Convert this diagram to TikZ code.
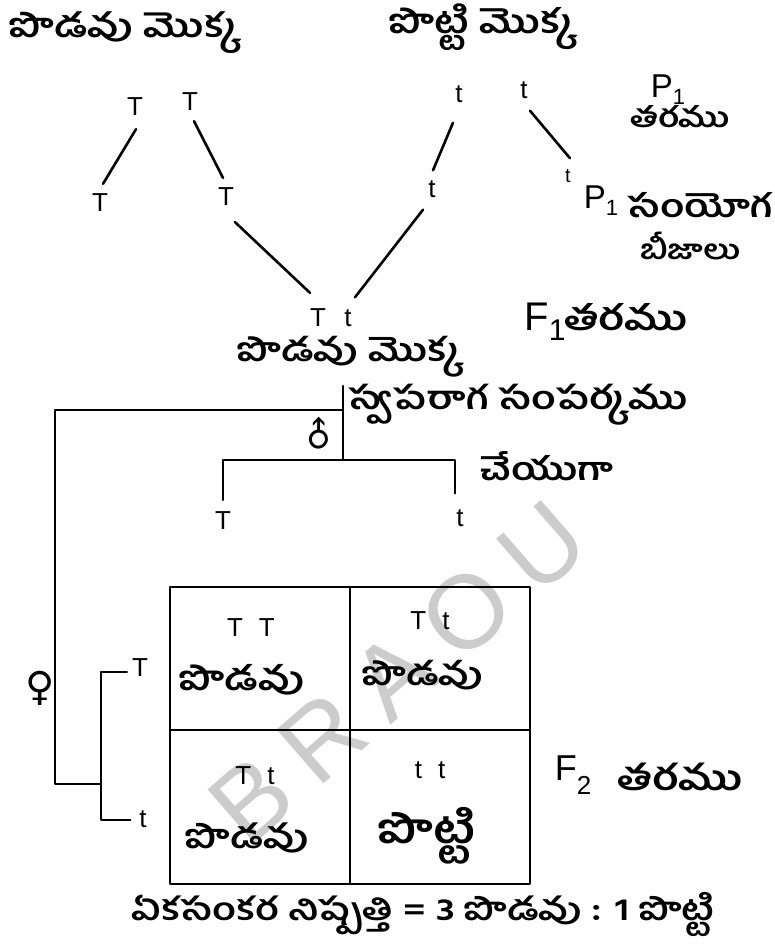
\documentclass[tikz,border=0pt]{standalone}
\usepackage{fontspec}
\setmainfont{Liberation Sans}
\newfontfamily\telugu[Script=Telugu]{Hind Guntur}
\newfontfamily\symfont{DejaVu Sans}
\usetikzlibrary{calc}
% Telugu text set to a given width (pt), slightly flattened
\newcommand\tel[2]{\scalebox{1}[0.8]{\resizebox{#1pt}{!}{\telugu\bfseries #2}}}
% lowered index: size, drop, text
\newcommand\lowidx[3]{\raisebox{-#2pt}{\fontsize{#1}{#1}\selectfont #3}}
\begin{document}
\begin{tikzpicture}[x=1pt,y=-1pt,
  ln/.style={line width=2.6pt,line cap=round,line join=round},
  allele/.style={inner sep=0pt,font=\fontsize{26}{26}\selectfont},
  lbl/.style={inner sep=0pt},
  gensym/.style={inner sep=0pt,font=\fontsize{34}{34}\selectfont}]
\fill[white] (0,0) rectangle (775,952);
\useasboundingbox (0,0) rectangle (775,952);

% watermark
\node[rotate=41,text=black!20,font=\fontsize{104}{104}\selectfont] (wm) at (398,672)
  {B\hspace{22pt}R\hspace{22pt}A\hspace{22pt}O\hspace{22pt}U};

% parent plants
\node[lbl] (tallP) at (125,33) {\tel{230}{పొడవు మొక్క}};
\node[lbl] (dwarfP) at (483,27) {\tel{187}{పొట్టి మొక్క}};

% parental alleles and gametes
\node[allele] (Ta) at (135,107) {T};
\node[allele] (Tb) at (190,102) {T};
\node[allele] (ta) at (459,94) {t};
\node[allele] (tb) at (524,90) {t};
\node[allele] (Tc) at (100,203) {T};
\node[allele] (Td) at (226,197) {T};
\node[allele] (tc) at (432,189) {t};
\node[allele,font=\fontsize{20}{20}\selectfont] (td) at (568,176) {t};

\draw[ln] ($(Ta.south)+(1,13)$) -- ($(Tc.north)+(3,-10)$);
\draw[ln] ($(Tb.south)+(4,10)$) -- ($(Td.north)+(-3,-10)$);
\draw[ln] ($(ta.south)+(-6,20)$) -- ($(tc.north)+(1,-10)$);
\draw[ln] ($(tb.south)+(6,12)$) -- ($(td.north)+(2,-11)$);

% generation labels
\node[gensym,font=\fontsize{33}{33}\selectfont] (P1g) at (668,90) {P\lowidx{22}{7}{1}};
\node[lbl] (tharamuP) at (680,117) {\tel{100}{తరము}};
\node[gensym,font=\fontsize{33}{33}\selectfont] (P1s) at (601,201) {P\lowidx{22}{7}{1}};
\node[lbl] (samyoga) at (700,205) {\tel{145}{సంయోగ}};
\node[lbl] (bijalu) at (690,246) {\tel{100}{బీజాలు}};

% F1 hybrid
\node[allele] (FT) at (318,318) {T};
\node[allele] (Ft) at (348,318) {t};
\draw[ln] ($(Td.south)+(9,16)$) -- ($(FT.north)+(-8,-16)$);
\draw[ln] ($(tc.south)+(-9,12)$) -- ($(Ft.north)+(7,-12)$);
\node[lbl] (f1plant) at (350,357) {\tel{225}{పొడవు మొక్క}};
\node[gensym,font=\fontsize{40}{40}\selectfont] (F1) at (545,322) {F\lowidx{30}{10}{1}};
\node[lbl] (tharamuF1) at (626,317) {\tel{123}{తరము}};

% self pollination
\node[lbl] (selfp) at (518,405) {\tel{339}{స్వపరాగ సంపర్కము}};
\node[lbl] (cheyaga) at (547,466) {\tel{133}{చేయుగా}};
\node[inner sep=0pt,rotate=45,font=\symfont\fontsize{34}{34}\selectfont] (male) at (319,435) {♂};
\node[inner sep=0pt,font=\symfont\fontsize{40}{40}\selectfont] (female) at (40,688) {♀};

\coordinate (stemTop) at (343,386);
\coordinate (stemJoin) at (343,410);
\coordinate (stemBot) at (343,460);
\coordinate (femCorner) at (55,410);
\coordinate (femFoot) at (55,784);
\coordinate (fSplitTop) at (101,672);
\coordinate (fSplitBot) at (101,820);
\coordinate (femJoin) at (101,784);

% male gametes
\node[allele] (mT) at (223,521) {T};
\node[allele] (mt) at (460,518) {t};
\draw[ln] (stemTop) -- (stemBot);
\draw[ln] ($(mT.north)+(0,-12)$) |- (stemBot) -| ($(mt.north)+(-5,-16)$);

% female gametes
\node[allele] (fT) at (140,668) {T};
\node[allele] (ft) at (143,819) {t};
\draw[ln] (stemJoin) -- (femCorner) -- (femFoot) -- (femJoin);
\draw[ln] ($(fT.west)+(-5,4)$) -- (fSplitTop) -- (fSplitBot) -- ($(ft.west)+(-9,1)$);

% Punnett square
\draw[ln] (170,587) rectangle (530,884);
\draw[ln] (350,587) -- (350,884);
\draw[ln] (170,730) -- (530,730);

\node[allele] (gTL) at (251,628) {T\hspace{16pt}T};
\node[lbl] (pTL) at (242,680) {\tel{125}{పొడవు}};
\node[allele] (gTR) at (430,621) {T\hspace{16pt}t};
\node[lbl] (pTR) at (423,675) {\tel{121}{పొడవు}};
\node[allele] (gBL) at (255,776) {T\hspace{16pt}t};
\node[lbl] (pBL) at (247,838) {\tel{123}{పొడవు}};
\node[allele] (gBR) at (430,770) {t\hspace{16pt}t};
\node[lbl] (pBR) at (427,836) {\tel{97}{పొట్టి}};

\node[gensym,font=\fontsize{36}{36}\selectfont] (F2) at (573,775) {F\lowidx{26}{14}{2}};
\node[lbl] (tharamuF2) at (680,777) {\tel{125}{తరము}};

% ratio
\node[lbl] (ratio) at (423,914) {\tel{583}{ఏకసంకర నిష్పత్తి = 3 పొడవు : 1 పొట్టి}};
\end{tikzpicture}
\end{document}
